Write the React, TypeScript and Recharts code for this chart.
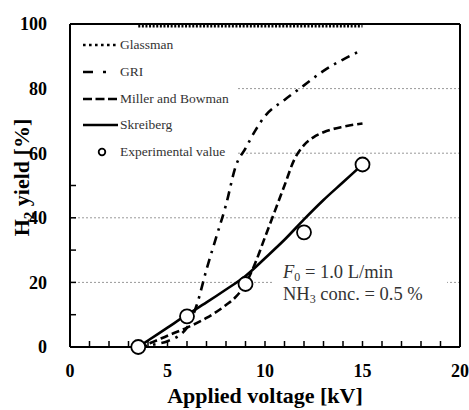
import React from "react";
import {
  ComposedChart,
  Line,
  Scatter,
  XAxis,
  YAxis,
  ReferenceLine,
  Label,
} from "recharts";

// ---- data ----
const xTicks = [0, 1, 2, 3, 4, 5, 6, 7, 8, 9, 10, 11, 12, 13, 14, 15, 16, 17, 18, 19, 20];
const yTicks = [0, 10, 20, 30, 40, 50, 60, 70, 80, 90, 100];
const xDomain = [0, 20];
const yDomain = [0, 100];
const gridValues = [20, 40, 60, 80];

const glassmanX = [3.5, 15];
const glassmanY = [99.3, 99.3];

const griX = [3.5, 4, 4.5, 5, 6, 6.5, 7, 7.5, 8, 8.5, 9, 9.5, 10, 11, 12, 13, 14, 15];
const griY = [0, 0.4, 1, 1.8, 6, 13, 24, 34, 44, 56, 61.5, 67, 71.5, 76.5, 81, 85.5, 89, 92];

const millerX = [3.5, 4, 5, 6, 7, 8, 8.5, 9, 9.5, 10, 10.5, 11, 11.5, 12, 12.5, 13, 14, 15];
const millerY = [0, 1, 3.5, 6, 9, 13, 15.5, 19.5, 26, 34, 42, 50, 58, 62.5, 65, 66.5, 68.2, 69.2];

const skreibergX = [3.5, 4, 5, 6, 7, 8, 9, 10, 11, 12, 13, 14, 15];
const skreibergY = [0, 2, 6, 10, 13.8, 17.8, 22, 27.5, 33.2, 39.5, 45.5, 51, 56.5];

const expX = [3.5, 6, 9, 12, 15];
const expY = [0, 9.5, 19.5, 35.5, 56.5];

const toPts = (xs: number[], ys: number[]) => xs.map((x, i) => ({ x, y: ys[i] }));

const FONT = '"Liberation Serif", "Times New Roman", serif';
const TEXT_GRAY = "#333";
const W = 469;
const H = 410;
const MARGIN = { top: 24, right: 9, left: 10, bottom: 13 };

const legendItems = [
  { name: "Glassman", dash: "2.6 3.4", marker: "line" },
  { name: "GRI", dash: "10 10 3 30", marker: "line" },
  { name: "Miller and Bowman", dash: "9 3.5", marker: "line" },
  { name: "Skreiberg", dash: undefined, marker: "line" },
  { name: "Experimental value", dash: undefined, marker: "circle" },
];

const LegendBox = () => (
  <div
    style={{
      position: "absolute",
      left: 71,
      top: 31,
      background: "#fff",
      width: 165,
      height: 130,
      boxSizing: "border-box",
      paddingTop: 1,
      fontFamily: FONT,
    }}
  >
    {legendItems.map((it, i) => (
      <div
        key={i}
        style={{
          display: "flex",
          alignItems: "center",
          height: 26.7,
          fontSize: 13.5,
          color: TEXT_GRAY,
        }}
      >
        <svg width={49} height={12} style={{ flex: "none" }}>
          {it.marker === "circle" ? (
            <circle cx={31} cy={6} r={3.3} fill="#fff" stroke="#000" strokeWidth={1.8} />
          ) : (
            <line x1={12} x2={47} y1={6} y2={6} stroke="#000" strokeWidth={2.6} strokeDasharray={it.dash} />
          )}
        </svg>
        <span>{it.name}</span>
      </div>
    ))}
  </div>
);

const YTitle = (props: any) => {
  const vb = props.viewBox || {};
  const cx = 21;
  const cy = vb.y + vb.height / 2 - 8;
  return (
    <text
      x={cx}
      y={cy}
      transform={`rotate(-90 ${cx} ${cy})`}
      textAnchor="middle"
      dy={8}
      fontFamily={FONT}
      fontWeight="bold"
      fontSize={22}
      fill="#000"
    >
      H<tspan fontSize={15} dy={5}>2</tspan>
      <tspan dy={-5}> yield [%]</tspan>
    </text>
  );
};

const circleShape = (props: any) => (
  <circle cx={props.cx} cy={props.cy} r={7} fill="#fff" stroke="#000" strokeWidth={1.8} />
);

export default function App() {
  return (
    <div style={{ position: "absolute", left: 0, top: 0, width: W, height: H, background: "#fff" }}>
      <div style={{ position: "relative", width: W, height: H }}>
        <ComposedChart width={W} height={H} margin={MARGIN}>
          {gridValues.map((v) => (
            <ReferenceLine
              key={v}
              y={v}
              stroke="#999"
              strokeWidth={1}
              strokeDasharray="2 2"
              ifOverflow="visible"
            />
          ))}
          <XAxis
            dataKey="x"
            type="number"
            domain={xDomain}
            ticks={xTicks}
            interval={0}
            tickFormatter={(v: number) => (v % 5 === 0 ? String(v) : "")}
            tickSize={-6}
            tickMargin={23}
            height={50}
            axisLine={{ stroke: "#000", strokeWidth: 2 }}
            tickLine={{ stroke: "#000", strokeWidth: 1.5 }}
            tick={{ fill: "#000", fontSize: 18, fontWeight: "bold", fontFamily: FONT }}
          >
            <Label
              value="Applied voltage [kV]"
              position="insideBottom"
              offset={-6}
              style={{ fontFamily: FONT, fontWeight: "bold", fontSize: 22, fill: "#000" }}
            />
          </XAxis>
          <YAxis
            type="number"
            domain={yDomain}
            ticks={yTicks}
            interval={0}
            tickFormatter={(v: number) => (v % 20 === 0 ? String(v) : "")}
            tickSize={-6}
            tickMargin={29}
            width={60}
            axisLine={{ stroke: "#000", strokeWidth: 2 }}
            tickLine={{ stroke: "#000", strokeWidth: 1.5 }}
            tick={{ fill: "#000", fontSize: 18, fontWeight: "bold", fontFamily: FONT }}
          >
            <Label content={<YTitle />} />
          </YAxis>
          <Line
            name="GRI"
            data={toPts(griX, griY)}
            dataKey="y"
            type="monotone"
            stroke="#000"
            strokeWidth={2.6}
            strokeDasharray="9 6 2.5 6"
            dot={false}
            activeDot={false}
            isAnimationActive={false}
          />
          <Line
            name="Miller and Bowman"
            data={toPts(millerX, millerY)}
            dataKey="y"
            type="monotone"
            stroke="#000"
            strokeWidth={2.6}
            strokeDasharray="8 4"
            dot={false}
            activeDot={false}
            isAnimationActive={false}
          />
          <Line
            name="Skreiberg"
            data={toPts(skreibergX, skreibergY)}
            dataKey="y"
            type="monotone"
            stroke="#000"
            strokeWidth={2.6}
            dot={false}
            activeDot={false}
            isAnimationActive={false}
          />
          <Scatter
            name="Experimental value"
            data={toPts(expX, expY)}
            dataKey="y"
            shape={circleShape}
            isAnimationActive={false}
          />
        </ComposedChart>
        <LegendBox />
        <div
          style={{
            position: "absolute",
            left: 273,
            top: 262,
            width: 174,
            height: 42,
            background: "#fff",
            color: TEXT_GRAY,
            fontFamily: FONT,
            fontSize: 18.5,
            lineHeight: "17px",
            paddingLeft: 10,
            boxSizing: "border-box",
            whiteSpace: "nowrap",
          }}
        >
          <div style={{ marginTop: 2 }}>
            <i>F</i>
            <sub style={{ fontSize: 12, verticalAlign: "-3px" }}>0</sub> = 1.0 L/min
          </div>
          <div>
            NH<sub style={{ fontSize: 12, verticalAlign: "-3px" }}>3</sub> conc. = 0.5 %
          </div>
        </div>
        {/* overlay layer with the same plot geometry: Glassman series and the top/right frame */}
        <div style={{ position: "absolute", left: 0, top: 0, width: W, height: H, pointerEvents: "none" }}>
          <ComposedChart width={W} height={H} margin={MARGIN}>
            <XAxis
              dataKey="x"
              type="number"
              domain={xDomain}
              height={50}
              tick={false}
              tickLine={false}
              axisLine={false}
            />
            <YAxis
              type="number"
              domain={yDomain}
              width={60}
              tick={false}
              tickLine={false}
              axisLine={false}
            />
            <ReferenceLine y={yDomain[1]} stroke="#000" strokeWidth={2} ifOverflow="visible" />
            <ReferenceLine x={xDomain[1]} stroke="#000" strokeWidth={2} ifOverflow="visible" />
            <Line
              name="Glassman"
              data={toPts(glassmanX, glassmanY)}
              dataKey="y"
              stroke="#000"
              strokeWidth={2.6}
              strokeDasharray="2 1.6"
              dot={false}
              activeDot={false}
              isAnimationActive={false}
            />
          </ComposedChart>
        </div>
      </div>
    </div>
  );
}
